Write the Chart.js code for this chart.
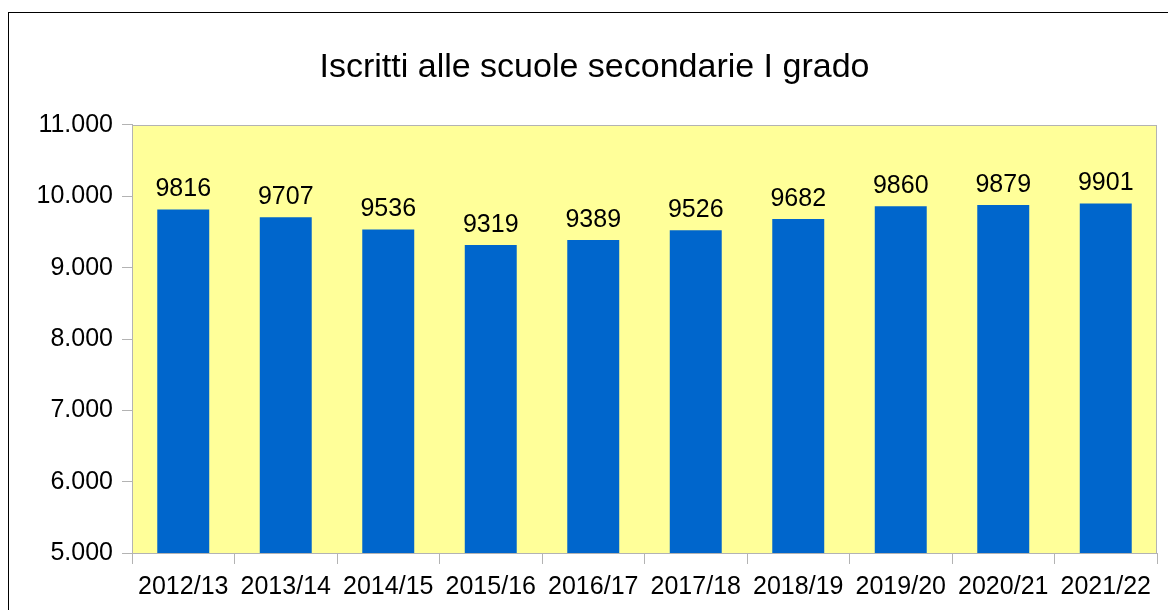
<!DOCTYPE html>
<html>
<head>
<meta charset="utf-8">
<script src="https://cdn.jsdelivr.net/npm/chart.js@4/dist/chart.umd.min.js"></script>
<style>
  html, body { margin: 0; padding: 0; background: #fff; overflow: hidden; }
  #frame { position: absolute; left: 8px; top: 12px; width: 1300px; height: 700px; border: 1px solid #000; }
  #chart { position: absolute; left: 0; top: 0; }
</style>
</head>
<body>
<div id="frame"></div>
<canvas id="chart" width="1168" height="610"></canvas>
<script>
/* Iscritti alle scuole secondarie I grado */
const years = ['2012/13', '2013/14', '2014/15', '2015/16', '2016/17',
               '2017/18', '2018/19', '2019/20', '2020/21', '2021/22'];
const iscritti = [9816, 9707, 9536, 9319, 9389, 9526, 9682, 9860, 9879, 9901];
const yTicks = [5000, 6000, 7000, 8000, 9000, 10000, 11000];
const yTickLabels = ['5.000', '6.000', '7.000', '8.000', '9.000', '10.000', '11.000'];

const FONT = 'Liberation Sans';
const GRAY = '#b3b3b3';

// yellow plot background + frame
const plotBg = {
  id: 'plotBg',
  beforeDatasetsDraw(chart) {
    const a = chart.chartArea, ctx = chart.ctx;
    ctx.save();
    ctx.fillStyle = '#ffff99';
    ctx.fillRect(a.left, a.top, a.right - a.left, a.bottom - a.top);
    ctx.restore();
  },
  afterDraw(chart) {
    const a = chart.chartArea, ctx = chart.ctx;
    ctx.save();
    ctx.strokeStyle = GRAY;
    ctx.lineWidth = 1;
    ctx.strokeRect(Math.round(a.left) + 0.5, Math.round(a.top) + 0.5,
                   Math.round(a.right - a.left) - 1, Math.round(a.bottom - a.top));
    ctx.restore();
  }
};

// value above each bar
const barValues = {
  id: 'barValues',
  afterDatasetsDraw(chart) {
    const ctx = chart.ctx;
    const meta = chart.getDatasetMeta(0);
    ctx.save();
    ctx.font = '25px "' + FONT + '"';
    ctx.fillStyle = '#000';
    ctx.textAlign = 'center';
    ctx.textBaseline = 'alphabetic';
    meta.data.forEach((bar, i) => {
      ctx.fillText(String(iscritti[i]), bar.x, bar.y - 13);
    });
    ctx.restore();
  }
};

new Chart(document.getElementById('chart').getContext('2d'), {
  type: 'bar',
  data: {
    labels: years,
    datasets: [{
      data: iscritti,
      backgroundColor: '#0066cc',
      borderWidth: 0,
      categoryPercentage: 1,
      barPercentage: 0.507
    }]
  },
  options: {
    responsive: false,
    animation: false,
    events: [],
    layout: { padding: { left: 32, right: 11, top: 0, bottom: 0 } },
    plugins: {
      legend: { display: false },
      tooltip: { enabled: false },
      title: {
        display: true,
        text: 'Iscritti alle scuole secondarie I grado',
        color: '#000',
        font: { family: FONT, size: 34, weight: 'normal' },
        padding: { top: 46.8, bottom: 37.4 }
      }
    },
    scales: {
      x: {
        grid: { drawOnChartArea: false, drawTicks: true, tickLength: 11, color: GRAY, offset: true },
        border: { color: GRAY },
        ticks: { color: '#000', font: { family: FONT, size: 25 }, padding: 8, maxRotation: 0, autoSkip: false },
        afterFit(scale) { scale.height = 57; }
      },
      y: {
        min: 5000,
        max: 11000,
        afterBuildTicks(scale) { scale.ticks = yTicks.map(v => ({ value: v })); },
        grid: { drawOnChartArea: false, drawTicks: true, tickLength: 10, color: GRAY },
        border: { color: GRAY },
        ticks: {
          color: '#000',
          font: { family: FONT, size: 25 },
          padding: 9,
          callback: v => yTickLabels[yTicks.indexOf(v)]
        },
        afterFit(scale) { scale.width = 100; }
      }
    }
  },
  plugins: [plotBg, barValues]
});
</script>
</body>
</html>
